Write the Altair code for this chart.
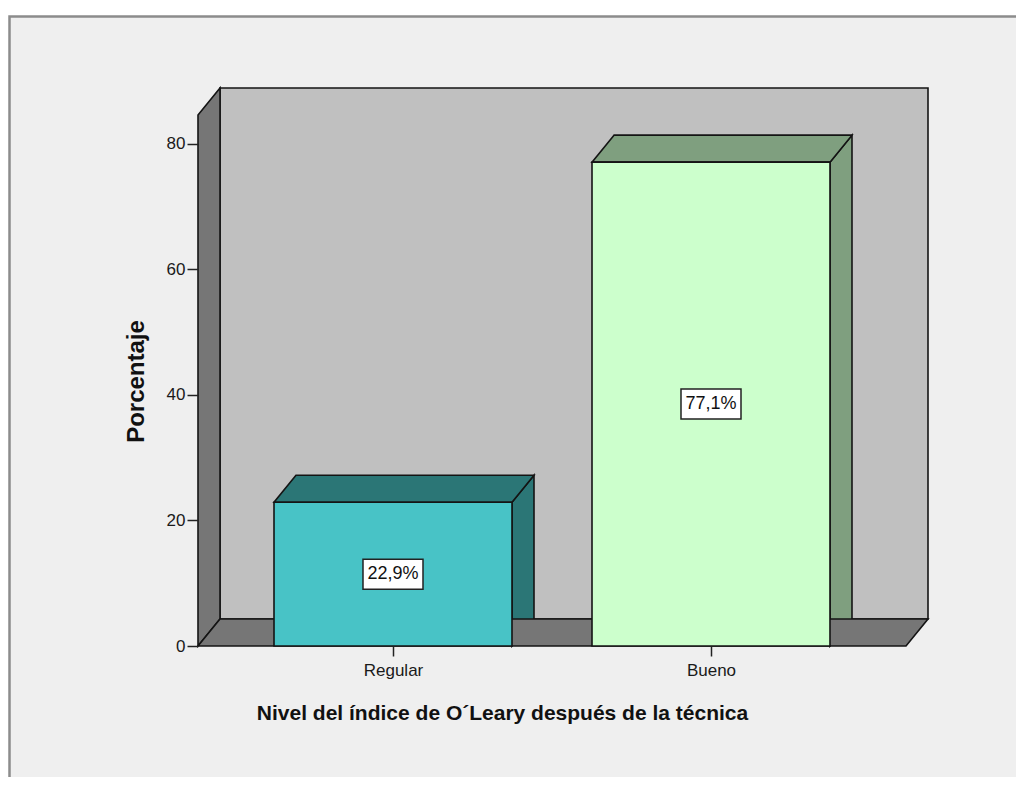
import altair as alt
import pandas as pd

# ---------------- data ----------------
categories = ["Regular", "Bueno"]
percentages = [22.9, 77.1]
value_labels = ["22,9%", "77,1%"]
front_colors = ["#48C3C6", "#CCFFCC"]
shade_colors = ["#2B7676", "#7F9F7F"]
y_ticks = [0, 20, 40, 60, 80]
x_title = "Nivel del índice de O´Leary después de la técnica"
y_title = "Porcentaje"

# ---------------- geometry / style constants ----------------
W, H = 730, 558
X_MIN, X_MAX = -0.6132, 1.6824
Y_MAX = 88.92
HALF = 0.3742          # half bar width (category units)
DX = 22 / 318          # 3D depth along x (category units)
DY = 27 / 6.275        # 3D depth along y (percent units)
FONT = "Liberation Sans"
EDGE = "#141414"
EDGE_W = 1.6
WALL = "#C0C0C0"
SIDE = "#767676"

pos = list(range(len(categories)))

xs = alt.Scale(domain=[X_MIN, X_MAX], nice=False, zero=False)
ys = alt.Scale(domain=[0, Y_MAX], nice=False, zero=False)

# ---------------- tables built from the arrays ----------------
front = pd.DataFrame({
    "cat": categories,
    "x": [p - HALF for p in pos],
    "x2": [p + HALF for p in pos],
    "y": [0.0] * len(pos),
    "y2": percentages,
    "fill": front_colors,
})

h_rows = []  # horizontal-oriented parallelograms (top faces, floor)
h_rows += [
    {"face": "floor", "y": 0.0, "x": X_MIN, "x2": X_MAX - DX, "fill": SIDE},
    {"face": "floor", "y": DY, "x": X_MIN + DX, "x2": X_MAX, "fill": SIDE},
]
for p, v, c in zip(pos, percentages, shade_colors):
    h_rows += [
        {"face": f"top{p}", "y": v, "x": p - HALF, "x2": p + HALF, "fill": c},
        {"face": f"top{p}", "y": v + DY, "x": p - HALF + DX, "x2": p + HALF + DX, "fill": c},
    ]
h_df = pd.DataFrame(h_rows)

v_rows = []  # vertical-oriented parallelograms (side faces, left wall)
v_rows += [
    {"face": "lwall", "x": X_MIN, "y": 0.0, "y2": Y_MAX - DY, "fill": SIDE},
    {"face": "lwall", "x": X_MIN + DX, "y": DY, "y2": Y_MAX, "fill": SIDE},
]
for p, v, c in zip(pos, percentages, shade_colors):
    v_rows += [
        {"face": f"side{p}", "x": p + HALF, "y": 0.0, "y2": v, "fill": c},
        {"face": f"side{p}", "x": p + HALF + DX, "y": DY, "y2": v + DY, "fill": c},
    ]
v_df = pd.DataFrame(v_rows)

back = pd.DataFrame({"x": [X_MIN + DX], "x2": [X_MAX], "y": [DY], "y2": [Y_MAX]})

labels = pd.DataFrame({
    "x": pos,
    "y": [v / 2 for v in percentages],
    "label": value_labels,
})

# ---------------- layers ----------------
frame = alt.Chart(alt.Data(values=[{"a": 1}])).mark_rect(
    fill="#EFEFEF", stroke="#8C8C8C", strokeWidth=2.5
).encode(
    x=alt.value(-188.5), x2=alt.value(950), y=alt.value(-71.5), y2=alt.value(800)
)

back_wall = alt.Chart(back).mark_rect(
    fill=WALL, stroke=EDGE, strokeWidth=EDGE_W
).encode(
    x=alt.X("x:Q", scale=xs,
            axis=alt.Axis(
                values=pos,
                labelExpr=f"{categories!r}[datum.value]",
                title=x_title,
                domain=False, grid=False, zindex=1,
                tickSize=10, tickWidth=1.5, tickColor="#222",
                labelFont=FONT, labelFontSize=17, labelColor="#1a1a1a",
                labelPadding=6,
                titleFont=FONT, titleFontSize=21, titleFontWeight="bold",
                titleColor="#111",
                titleX=304, titleY=73, titleBaseline="alphabetic", titleAlign="center",
            )),
    x2="x2:Q",
    y=alt.Y("y:Q", scale=ys,
            axis=alt.Axis(
                values=y_ticks, format="d", title=y_title,
                domain=False, grid=False, zindex=1,
                tickSize=11, tickWidth=1.5, tickColor="#222",
                labelFont=FONT, labelFontSize=17, labelColor="#1a1a1a",
                labelPadding=2,
                titleFont=FONT, titleFontSize=24, titleFontWeight="bold",
                titleColor="#111",
                titleX=-50, titleY=293, titleBaseline="bottom", titleAlign="center",
                titleAngle=270,
            )),
    y2="y2:Q",
)

h_faces = alt.Chart(h_df).mark_area(
    orient="horizontal", stroke=EDGE, strokeWidth=EDGE_W, strokeJoin="miter", opacity=1
).encode(
    y="y:Q", x="x:Q", x2="x2:Q",
    detail="face:N",
    fill=alt.Fill("fill:N", scale=None),
)

v_faces = alt.Chart(v_df).mark_area(
    orient="vertical", stroke=EDGE, strokeWidth=EDGE_W, strokeJoin="miter", opacity=1
).encode(
    x="x:Q", y="y:Q", y2="y2:Q",
    detail="face:N",
    fill=alt.Fill("fill:N", scale=None),
)

front_faces = alt.Chart(front).mark_rect(
    stroke=EDGE, strokeWidth=EDGE_W
).encode(
    x="x:Q", x2="x2:Q", y="y:Q", y2="y2:Q",
    fill=alt.Fill("fill:N", scale=None),
)

boxes = alt.Chart(labels).mark_point(
    shape="M-1,-0.5L1,-0.5L1,0.5L-1,0.5Z", size=60 * 60, filled=True,
    fill="white", stroke="#222", strokeWidth=1.5, opacity=1
).encode(x="x:Q", y="y:Q")

texts = alt.Chart(labels).mark_text(
    font=FONT, fontSize=18, color="#111", align="center", baseline="middle"
).encode(x="x:Q", y="y:Q", text="label:N")

chart = alt.layer(
    frame, back_wall, v_faces, h_faces, front_faces, boxes, texts
).properties(
    width=W, height=H,
    autosize=alt.AutoSizeParams(type="none"),
    padding={"left": 190, "top": 80, "right": 88, "bottom": 131},
    background="white",
).configure_view(stroke=None)

chart.save("out.html", embed_options={"renderer": "svg", "actions": False})
